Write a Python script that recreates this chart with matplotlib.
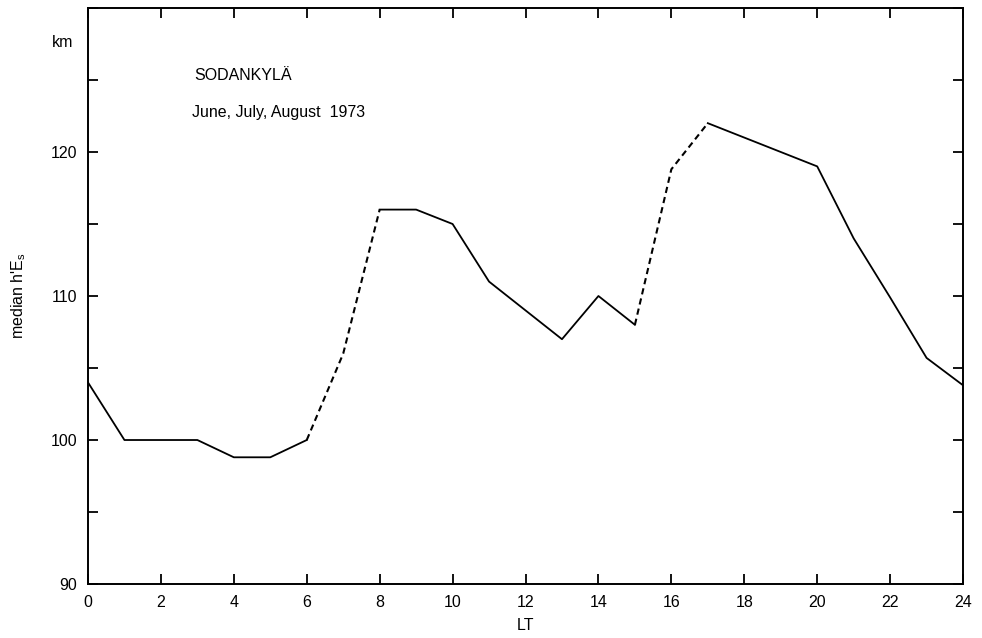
import matplotlib
matplotlib.use("Agg")
import matplotlib.pyplot as plt
from matplotlib.ticker import MultipleLocator

plt.rcParams['font.family'] = ['Liberation Sans', 'DejaVu Sans']

# median h'Es at Sodankyla, local time (hours) -> km
hours = [0, 1, 3, 4, 5, 6, 7, 8, 9, 10, 11, 13, 14, 15, 16, 17, 20, 21, 22, 23, 24]
height = [104.0, 100.0, 100.0, 98.8, 98.8, 100.0, 106.0, 116.0, 116.0, 115.0,
          111.0, 107.0, 110.0, 108.0, 118.8, 122.0, 119.0, 114.0, 109.9, 105.7, 103.8]

# index ranges (into hours) of the dashed parts, the rest is solid
dashed_parts = [(5, 7), (13, 15)]
solid_parts = [(0, 5), (7, 13), (15, 20)]

x_ticks = list(range(0, 25, 2))
y_ticks = [90, 100, 110, 120]

fig = plt.figure(figsize=(9.82, 6.38), dpi=100)
ax = fig.add_axes([0.0896, 0.0846, 0.8911, 0.9029])

for a, b in solid_parts:
    ax.plot(hours[a:b + 1], height[a:b + 1], color='black', lw=1.3)
for a, b in dashed_parts:
    ax.plot(hours[a:b + 1], height[a:b + 1], color='black', lw=1.5,
            dashes=(3, 2))

ax.set_xlim(0, 24)
ax.set_ylim(90, 130)
ax.set_xticks(x_ticks)
ax.set_yticks(y_ticks)
ax.yaxis.set_minor_locator(MultipleLocator(5))
ax.tick_params(which='both', direction='in', top=True, right=True,
               length=7, width=1.3, labelsize=11.5, pad=8)
ax.tick_params(axis='y', which='minor', length=7)
for s in ax.spines.values():
    s.set_linewidth(1.4)

ax.set_xlabel('LT', fontsize=11.5, labelpad=6)
ax.set_ylabel("median h'E$_\\mathregular{s}$", fontsize=11.5, labelpad=16)

fig.text(0.053, 0.934, 'km', fontsize=11.5, ha='left', va='center')
ax.text(0.122, 0.882, 'SODANKYLÄ', transform=ax.transAxes, fontsize=11.5,
        ha='left', va='center')
ax.text(0.119, 0.818, 'June, July, August  1973', transform=ax.transAxes,
        fontsize=11.5, ha='left', va='center')

fig.savefig('out.png', dpi=100)
